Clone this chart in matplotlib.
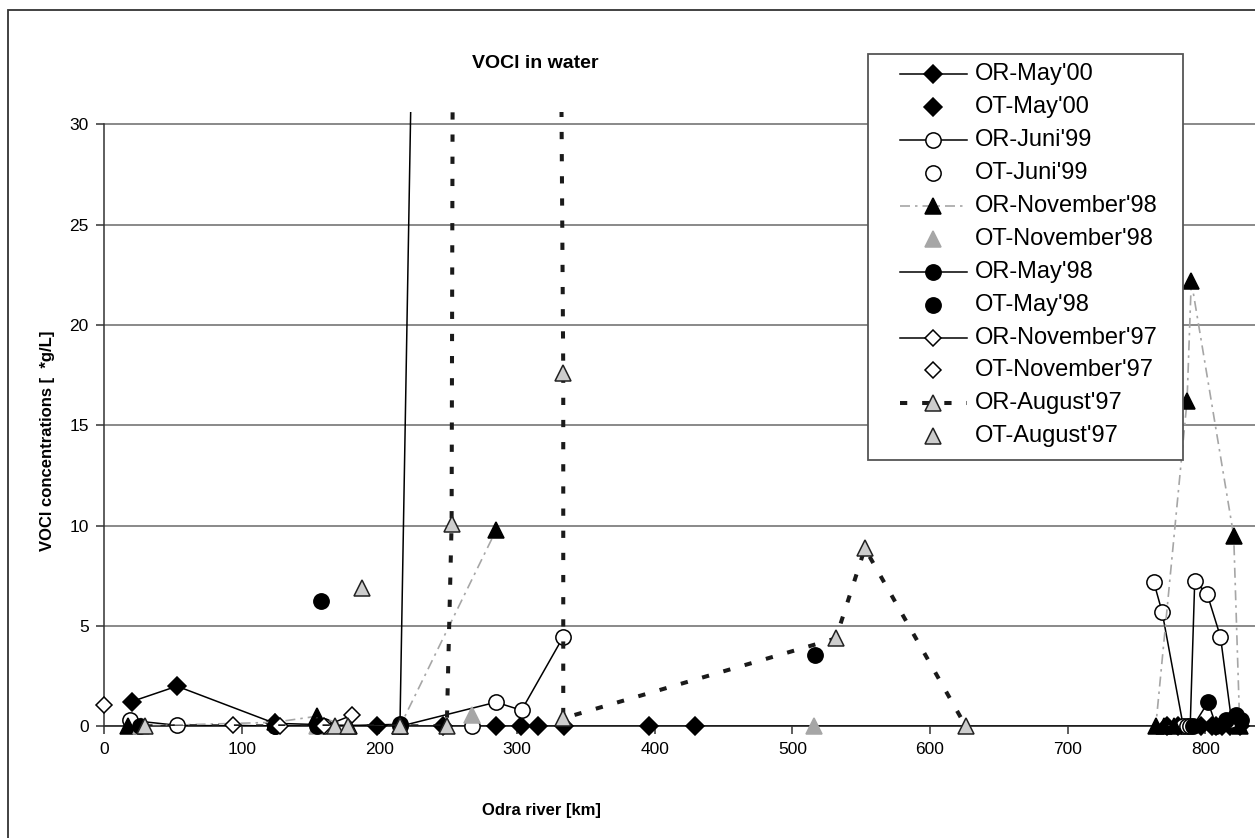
import numpy as np
import matplotlib
matplotlib.use("Agg")
import matplotlib.pyplot as plt
from matplotlib.lines import Line2D
from matplotlib.patches import Rectangle

plt.rcParams['font.family'] = ['Liberation Sans', 'DejaVu Sans']

nan = np.nan

# OR = river samples (lines), OT = tributaries (markers only)
may00_or_km = [20, 53, 124, 198, 246, 285, 303, 315, 334, 396, 429, 772, 780, 797, 805, 812, 818]
may00_or_val = [1.23, 2.0, 0.15, 0, 0, 0, 0, 0, 0, 0, 0, 0, 0, 0, 0, 0, 0]
may00_ot_km = [808, 825]
may00_ot_val = [0, 0]

juni99_or_km = [19, 53, 124, 160, 215, 284.7, 303.3, 333.6, nan,
                762.5, 768.6, 784, 787, 789, 792.3, 801.3, 811, 819]
juni99_or_val = [0.3, 0.05, 0, 0, 0, 1.2, 0.8, 4.46, nan,
                 7.2, 5.7, 0, 0, 0, 7.24, 6.6, 4.46, 0.3]
juni99_ot_km = [267]
juni99_ot_val = [0]

nov98_or_km = [17.5, 124, 154.5, 178, 215, 285, nan, 770, 777, 764, 786.7, 789.8, 820.6, 825]
nov98_or_val = [0, 0.2, 0.5, 0, 0, 9.8, nan, 0, 0, 0, 16.2, 22.2, 9.5, 0]
nov98_ot_km = [27, 155, 267, 516]
nov98_ot_val = [0, 0, 0.55, 0]

may98_or_km = [26, 124, 154.5, 215, 245.5, nan, 791, 802, 808, 815, 822.5, 826]
may98_or_val = [0, 0, 0, 0.1, 120, nan, 0, 1.2, 0, 0.3, 0.56, 0.3]
may98_ot_km = [157.6, 516.3]
may98_ot_val = [6.24, 3.55]

nov97_or_km = [94, 128, 160, 180]
nov97_or_val = [0.05, 0, 0, 0.55]
nov97_ot_km = [0]
nov97_ot_val = [1.05]

aug97_or_km = [30, 168, 177, 215, 249, 252.5, 274, 333.6, 333.6, 531.6, 552.7, 626]
aug97_or_val = [0, 0, 0, 0, 0, 10.1, 630, 17.6, 0.4, 4.38, 8.87, 0]
aug97_ot_km = [187.4]
aug97_ot_val = [6.9]

x_ticks = [0, 100, 200, 300, 400, 500, 600, 700, 800]
y_ticks = [0, 5, 10, 15, 20, 25, 30]

W, H = 1255, 838
fig = plt.figure(figsize=(W / 100, H / 100), dpi=100)

def fx(px):
    return px / W

def fy(py):
    return 1 - py / H

# the x axis runs on past the right edge of the (cropped) picture
ax = fig.add_axes([fx(104), fy(726.3), 1239 / W, 614 / H])
ax.set_xlim(0, 900)
ax.set_ylim(0, 30.6)

solid = dict(color='black', lw=1.1, linestyle='-')
dashdot = dict(color='#a6a6a6', lw=1.2, linestyle=(0, (6, 3, 1.5, 3)))
dashed = dict(color='#1a1a1a', lw=2.9, linestyle=(0, (1.8, 3.7)))

LG = '#cdcdcd'
MG = '#a6a6a6'

series = [
    ("OR-May'00", may00_or_km, may00_or_val, solid, dict(marker='D', ms=9, mfc='black', mec='black')),
    ("OT-May'00", may00_ot_km, may00_ot_val, None, dict(marker='D', ms=9, mfc='black', mec='black')),
    ("OR-Juni'99", juni99_or_km, juni99_or_val, solid, dict(marker='o', ms=11, mfc='white', mec='black')),
    ("OT-Juni'99", juni99_ot_km, juni99_ot_val, None, dict(marker='o', ms=11, mfc='white', mec='black')),
    ("OR-November'98", nov98_or_km, nov98_or_val, dashdot, dict(marker='^', ms=12, mfc='black', mec='black')),
    ("OT-November'98", nov98_ot_km, nov98_ot_val, None, dict(marker='^', ms=12, mfc=MG, mec=MG)),
    ("OR-May'98", may98_or_km, may98_or_val, solid, dict(marker='o', ms=11, mfc='black', mec='black')),
    ("OT-May'98", may98_ot_km, may98_ot_val, None, dict(marker='o', ms=11, mfc='black', mec='black')),
    ("OR-November'97", nov97_or_km, nov97_or_val, solid, dict(marker='D', ms=8, mfc='white', mec='black')),
    ("OT-November'97", nov97_ot_km, nov97_ot_val, None, dict(marker='D', ms=8, mfc='white', mec='black')),
    ("OR-August'97", aug97_or_km, aug97_or_val, dashed, dict(marker='^', ms=12, mfc=LG, mec='#222222')),
    ("OT-August'97", aug97_ot_km, aug97_ot_val, None, dict(marker='^', ms=12, mfc=LG, mec='#222222')),
]

for i, (name, xs, ys, ls, mk) in enumerate(series):
    z = 3 + i
    if ls is not None:
        ax.plot(xs, ys, zorder=z, **ls)
    ax.plot(xs, ys, linestyle='none', mew=1.1, zorder=z + 0.5, clip_on=False, **mk)

# axes styling
ax.set_yticks(y_ticks)
ax.set_xticks(x_ticks)
ax.yaxis.grid(True, color='#808080', lw=1.3, zorder=1)
ax.set_axisbelow(True)
for s in ['top', 'right']:
    ax.spines[s].set_visible(False)
ax.spines['left'].set_bounds(0, 30)
ax.spines['left'].set_color('#333333')
ax.spines['bottom'].set_color('#333333')
ax.spines['left'].set_linewidth(1.1)
ax.spines['bottom'].set_linewidth(1.3)
ax.tick_params(axis='both', direction='out', length=6, width=1.1,
               color='#333333', labelsize=12.5, pad=5)

# texts
fig.text(fx(535), fy(63), "VOCl in water", ha='center', va='center',
         fontsize=14, fontweight='bold')
fig.text(fx(48), fy(441), "VOCl concentrations [  *g/L]", ha='center', va='center',
         rotation=90, fontsize=12, fontweight='bold')
fig.text(fx(541), fy(810), "Odra river [km]", ha='center', va='center',
         fontsize=12, fontweight='bold')

# legend box drawn by hand to match the original layout
fig.add_artist(Rectangle((fx(868), fy(460)), fx(1183) - fx(868), fy(54) - fy(460),
                         transform=fig.transFigure, facecolor='white',
                         edgecolor='#555555', lw=1.3, zorder=20))
for i, (name, xs, ys, ls, mk) in enumerate(series):
    py = 74.3 + i * 32.9
    if ls is not None:
        fig.add_artist(Line2D([fx(900), fx(967)], [fy(py), fy(py)],
                              transform=fig.transFigure, zorder=21, **ls))
    fig.add_artist(Line2D([fx(933)], [fy(py)], transform=fig.transFigure,
                          linestyle='none', mew=1.1, zorder=22, **mk))
    fig.text(fx(975), fy(py), name, ha='left', va='center', fontsize=17, zorder=23)

# chart area border (cropped on the right and bottom)
fig.add_artist(Rectangle((fx(8), -0.1), 1.2, fy(10) + 0.1, transform=fig.transFigure,
                         fill=False, edgecolor='#333333', lw=1.3, zorder=30))

plt.savefig("out.png", dpi=100)
